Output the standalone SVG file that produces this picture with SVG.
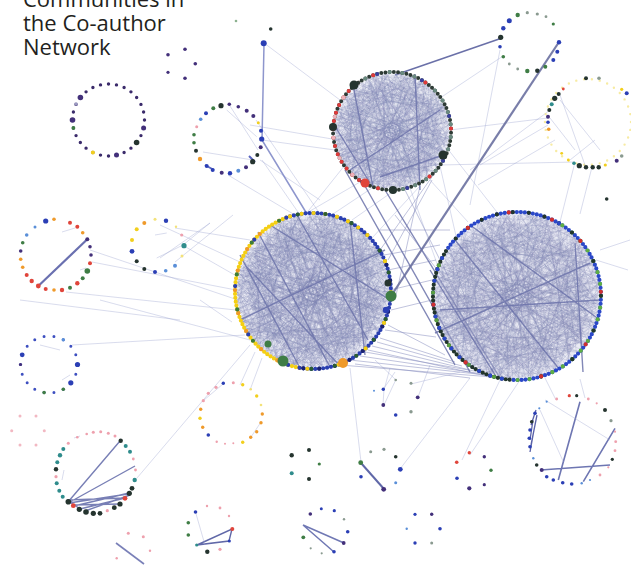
<svg xmlns="http://www.w3.org/2000/svg" xmlns:xlink="http://www.w3.org/1999/xlink" width="631" height="567" viewBox="0 0 631 567">
<style>
.t{font-family:"Open Sans","Liberation Sans",sans-serif;font-size:22px;fill:#231f20}
.ring{fill:none;stroke-linecap:round}
.mesh{fill:none;stroke:#7d83b2}
.haze{fill:#c3c6df}
.ef{fill:none;stroke:#9ca2d0;stroke-width:0.7;stroke-opacity:0.55}
.em{fill:none;stroke:#8a90c0;stroke-width:0.9;stroke-opacity:0.6}
.ed{fill:none;stroke:#6c73aa;stroke-width:1.4;stroke-opacity:0.85}
.bl{fill:#2b3fb5}.dk{fill:#25342f}.gr{fill:#3f7d45}.ye{fill:#f2cf1d}.or{fill:#ef9a2b}.rd{fill:#e0453b}
.pk{fill:#eea0ad}.pu{fill:#43307a}.tl{fill:#2f8c8c}.lb{fill:#5a8fd8}.gy{fill:#8a9a90}.fy{fill:#f3e27a}
</style>
<defs>
<filter id="soft" x="-5%" y="-5%" width="110%" height="110%"><feGaussianBlur stdDeviation="0.45"/></filter>
<path id="w1" d="M1,0L-0.966,0.259M0.966,0.259L-0.5,0.866M0.866,0.5L-0.707,-0.707M0.707,0.707L0.259,-0.966M0.5,0.866L-0.866,-0.5M0.259,0.966L0.707,-0.707M0,1L-1,0M-0.259,0.966L0.866,-0.5"/>
<path id="w2" d="M1,0L0.5,0.866M0.966,0.259L-0.259,0.966M0.707,0.707L-0.966,-0.259M0.259,0.966L-0.5,-0.866M-0.5,0.866L-0.866,-0.5M0.866,-0.5L-0.707,0.707M0.966,-0.259L0,1M0.5,-0.866L-0.259,-0.966"/>
<path id="w3" d="M0.985,0.174L-0.94,-0.342M0.643,0.766L-0.574,-0.819M-0.174,0.985L0.342,-0.94M-0.819,0.574L0.766,-0.643M0.94,0.342L-0.766,0.643M0.174,0.985L-0.985,-0.174M-0.342,0.94L0.985,-0.174M-0.94,-0.342L0.174,-0.985"/>
<g id="mesh">
<use href="#w1"/><use href="#w1" transform="rotate(31)"/><use href="#w1" transform="rotate(67)"/><use href="#w1" transform="rotate(103)"/><use href="#w1" transform="rotate(149)"/><use href="#w1" transform="rotate(181)"/><use href="#w1" transform="rotate(214)"/><use href="#w1" transform="rotate(259)"/><use href="#w1" transform="rotate(287)"/><use href="#w1" transform="rotate(331)"/>
<use href="#w2" transform="rotate(13)"/><use href="#w2" transform="rotate(52)"/><use href="#w2" transform="rotate(88)"/><use href="#w2" transform="rotate(121)"/><use href="#w2" transform="rotate(170)"/><use href="#w2" transform="rotate(197)"/><use href="#w2" transform="rotate(241)"/><use href="#w2" transform="rotate(268)"/><use href="#w2" transform="rotate(309)"/><use href="#w2" transform="rotate(350)"/>
<use href="#w3" transform="rotate(4)"/><use href="#w3" transform="rotate(47)"/><use href="#w3" transform="rotate(93)"/><use href="#w3" transform="rotate(138)"/><use href="#w3" transform="rotate(186)"/><use href="#w3" transform="rotate(229)"/><use href="#w3" transform="rotate(277)"/><use href="#w3" transform="rotate(318)"/>
</g>
<path id="arcA1" d="M299.5,367.8A78,78 0 0 1 286.3,217.7" pathLength="52"/>
<path id="arcA2" d="M286.3,217.7A78,78 0 0 1 372.7,240.9" pathLength="24"/>
<path id="arcA3" d="M372.7,240.9A78,78 0 0 1 299.5,367.8" pathLength="48"/>
<path id="arcB1" d="M509.7,379.7A84,84 0 0 1 448.2,247.8" pathLength="44"/>
<path id="arcB2" d="M448.2,247.8A84,84 0 0 1 559,223.3" pathLength="31"/>
<path id="arcB3" d="M559,223.3A84,84 0 0 1 509.7,379.7" pathLength="57"/>
<path id="arcC1" d="M362.5,182.1A59,59 0 0 1 358.2,82.7" pathLength="28"/>
<path id="arcC2" d="M358.2,82.7A59,59 0 1 1 362.5,182.1" pathLength="60"/>
</defs>
<rect width="631" height="567" fill="#ffffff"/>

<text class="t" x="23" y="7">Communities in</text>
<text class="t" x="23" y="31">the Co-author</text>
<text class="t" x="23" y="55">Network</text>

<!-- connectors between communities -->
<g id="edges">
<path class="ef" d="M236,290L92,262M238,300L90,250M240,278L184,246M236,310L66,292M245,335L72,345M250,345L137,478M255,352L240,385M262,358L250,390M240,262L160,225M250,240L175,228M300,215L262,160M320,214L256,120M335,150L262,140M340,100L264,43M345,165L305,215M372,188L330,216M395,190L352,220M360,182L298,218M420,186L372,238M430,180L468,222M440,166L456,236M410,188L440,272M447,148L500,216M450,130L548,118M440,98L503,56M560,222L575,162M580,214L592,167M545,378L556,400M580,379L585,398M520,380L470,455M500,380L462,460M390,368L384,390M375,360L396,380M460,372L411,384M430,365L418,397M350,368L361,462M470,378L400,469M500,50L470,205M470,170L550,110M478,185L555,140M480,165L548,125M440,165L575,162M232,322L200,300M175,262L233,215M160,258L210,223M20,300L180,320M100,300L250,340M260,160L320,200M250,125L338,140M228,175L300,218M600,250L630,240M596,260L628,270"/>
<path class="em" d="M365,352L480,372M372,346L470,370M380,338L455,362M350,360L495,376M388,325L445,355M340,365L505,378M360,356L490,375M377,342L462,366M385,330L436,337M391,310L432,300M390,290L432,280M388,270L436,260M384,255L440,245M355,364L470,378M368,350L500,379M420,186L395,300M432,180L388,260M444,160L380,250M405,190L460,300M380,230L450,230M395,215L445,280"/>
<path class="ed" d="M345,170L455,365M365,186L470,372M385,190L500,378"/>
<path d="M395,75L502,38" fill="none" stroke="#6a70a8" stroke-width="1.6"/>
<path d="M559,42L391,296" fill="none" stroke="#6a70a0" stroke-width="2.2" stroke-opacity="0.9"/>
<path d="M264,44L262,140L307,214" fill="none" stroke="#7a84c4" stroke-width="1.5" stroke-opacity="0.85"/>
</g>

<!-- big left community -->
<g id="comm-a">
<circle class="haze" cx="313" cy="291" r="76" fill-opacity="0.35"/>
<g class="mesh" filter="url(#soft)">
<use href="#mesh" transform="translate(313,291) scale(77)" stroke-width="0.009" stroke-opacity="0.3"/>
<use href="#mesh" transform="translate(308,296) scale(71) rotate(11)" stroke-width="0.0098" stroke-opacity="0.22"/>
<use href="#mesh" transform="translate(318,286) scale(70) rotate(57)" stroke-width="0.01" stroke-opacity="0.2"/>
</g>
<path class="ed" d="M258,232L330,367M297,215L368,340M240,255L300,368M270,225L390,300M350,222L365,355M240,320L385,250M245,265L340,366"/>
<g class="ring" stroke-width="4.2">
<use href="#arcA1" stroke="#f4cf14" stroke-dasharray="0 1"/>
<use href="#arcA1" stroke="#ef9a2b" stroke-dasharray="0 6 0 5"/>
<use href="#arcA1" stroke="#3d7d3a" stroke-dasharray="0 9" stroke-dashoffset="4"/>
<use href="#arcA1" stroke="#2a3fb0" stroke-dasharray="0 13" stroke-dashoffset="10"/>
<use href="#arcA2" stroke="#2a3fb0" stroke-dasharray="0 1"/>
<use href="#arcA2" stroke="#f4cf14" stroke-dasharray="0 3" stroke-dashoffset="2"/>
<use href="#arcA2" stroke="#2d5e33" stroke-dasharray="0 7" stroke-dashoffset="4"/>
<use href="#arcA3" stroke="#2a3fb0" stroke-dasharray="0 1"/>
<use href="#arcA3" stroke="#1a2270" stroke-dasharray="0 4" stroke-dashoffset="1"/>
<use href="#arcA3" stroke="#2d5e33" stroke-dasharray="0 6" stroke-dashoffset="3"/>
<use href="#arcA3" stroke="#f4cf14" stroke-dasharray="0 8" stroke-dashoffset="2"/>
</g>
<circle class="gr" cx="391" cy="296" r="5.5"/>
<circle class="dk" cx="388" cy="283" r="3.5"/>
<circle class="gr" cx="283" cy="361" r="5.5"/>
<circle class="or" cx="343" cy="363" r="5"/>
<circle class="gr" cx="268" cy="344" r="3.5"/>
<circle class="bl" cx="386" cy="310" r="3.2"/>
</g>

<!-- big right community -->
<g id="comm-b">
<circle class="haze" cx="517" cy="296" r="82" fill-opacity="0.35"/>
<g class="mesh" filter="url(#soft)">
<use href="#mesh" transform="translate(517,296) scale(83) rotate(5)" stroke-width="0.0085" stroke-opacity="0.28"/>
<use href="#mesh" transform="translate(512,301) scale(77) rotate(24)" stroke-width="0.0092" stroke-opacity="0.2"/>
<use href="#mesh" transform="translate(522,291) scale(76) rotate(71)" stroke-width="0.0093" stroke-opacity="0.18"/>
</g>
<path class="ed" d="M435,333L590,263M430,270L497,378M575,243L583,372M455,240L560,370M470,225L600,320M440,310L600,300"/>
<g class="ring" stroke-width="4.2">
<use href="#arcB1" stroke="#22352c" stroke-dasharray="0 1"/>
<use href="#arcB1" stroke="#2b48c8" stroke-dasharray="0 3" stroke-dashoffset="1"/>
<use href="#arcB1" stroke="#5a9e40" stroke-dasharray="0 7" stroke-dashoffset="3"/>
<use href="#arcB1" stroke="#d03030" stroke-dasharray="0 17" stroke-dashoffset="5"/>
<use href="#arcB2" stroke="#2b48c8" stroke-dasharray="0 1"/>
<use href="#arcB2" stroke="#22352c" stroke-dasharray="0 4" stroke-dashoffset="1"/>
<use href="#arcB2" stroke="#d03030" stroke-dasharray="0 11" stroke-dashoffset="4"/>
<use href="#arcB3" stroke="#2b48c8" stroke-dasharray="0 1"/>
<use href="#arcB3" stroke="#5fae44" stroke-dasharray="0 3" stroke-dashoffset="2"/>
<use href="#arcB3" stroke="#22352c" stroke-dasharray="0 9" stroke-dashoffset="5"/>
<use href="#arcB3" stroke="#d03030" stroke-dasharray="0 14" stroke-dashoffset="7"/>
</g>
</g>

<!-- top middle community -->
<g id="comm-c">
<circle class="haze" cx="392" cy="131" r="57" fill-opacity="0.25"/>
<g class="mesh" filter="url(#soft)">
<use href="#mesh" transform="translate(392,131) scale(58) rotate(7)" stroke-width="0.012" stroke-opacity="0.27"/>
<use href="#mesh" transform="translate(388,135) scale(53) rotate(27)" stroke-width="0.013" stroke-opacity="0.15"/>
<use href="#mesh" transform="translate(396,127) scale(52) rotate(61)" stroke-width="0.013" stroke-opacity="0.12"/>
</g>
<path class="ed" d="M353,85L373,187M415,74L420,190M333,123L370,183M443,155L380,177M440,110L350,170"/>
<g class="ring" stroke-width="4">
<use href="#arcC1" stroke="#2e3b36" stroke-dasharray="0 1"/>
<use href="#arcC1" stroke="#e03a3a" stroke-dasharray="0 2" stroke-dashoffset="1"/>
<use href="#arcC1" stroke="#f0b0b8" stroke-dasharray="0 5" stroke-dashoffset="2"/>
<use href="#arcC2" stroke="#2e3b36" stroke-dasharray="0 1"/>
<use href="#arcC2" stroke="#6a8a80" stroke-dasharray="0 3" stroke-dashoffset="1"/>
<use href="#arcC2" stroke="#3a40a0" stroke-dasharray="0 11" stroke-dashoffset="6"/>
<use href="#arcC2" stroke="#e03a3a" stroke-dasharray="0 13" stroke-dashoffset="9"/>
</g>
<circle class="dk" cx="354" cy="85" r="4.5"/>
<circle class="dk" cx="333" cy="127" r="4"/>
<circle class="rd" cx="365" cy="183" r="4.5"/>
<circle class="dk" cx="393" cy="190" r="4"/>
<circle class="dk" cx="443" cy="155" r="4.5"/>
</g>

<!-- top right small community -->
<g id="comm-d">
<circle class="dk" cx="500.7" cy="37.3" r="2.6"/>
<circle class="bl" cx="503.3" cy="28.3" r="2.2"/>
<circle class="bl" cx="509.3" cy="20.7" r="2.5"/>
<circle class="gr" cx="517.7" cy="15" r="2.2"/>
<circle class="gy" cx="527.3" cy="12.7" r="1.6"/>
<circle class="gy" cx="537.3" cy="14" r="1.6"/>
<circle class="gy" cx="546" cy="16.7" r="1.4"/>
<circle class="gr" cx="553.3" cy="24" r="1.6"/>
<circle class="bl" cx="559" cy="42.3" r="2.2"/>
<circle class="bl" cx="557.3" cy="51.7" r="2"/>
<circle class="bl" cx="553.3" cy="60" r="2"/>
<circle class="gr" cx="545.3" cy="66.7" r="2"/>
<circle class="dk" cx="537.3" cy="70.7" r="2.2"/>
<circle class="gr" cx="527.3" cy="71" r="2.2"/>
<circle class="gy" cx="517.7" cy="69" r="1.4"/>
<circle class="gy" cx="509.3" cy="64" r="1.4"/>
<circle class="gr" cx="503.3" cy="56.7" r="1.8"/>
<circle class="bl" cx="500" cy="46.7" r="1.8"/>
</g>

<!-- right community -->
<g id="comm-e">
<circle cx="588" cy="122" r="43" fill="none" stroke="#f3e27a" stroke-width="2.4" stroke-linecap="round" stroke-dasharray="0 1" pathLength="34" stroke-opacity="0.7"/>
<path class="ef" d="M550,118L575,150M570,160L595,140M560,100L600,150M585,165L560,95"/>
<circle class="rd" cx="563.3" cy="89" r="1.4"/>
<circle class="dk" cx="586" cy="78.3" r="2"/>
<circle class="gy" cx="599" cy="78.3" r="1.8"/>
<circle class="ye" cx="621.7" cy="89.3" r="1.6"/>
<circle class="bl" cx="626.7" cy="93.3" r="2"/>
<circle class="dk" cx="554.7" cy="98.3" r="2.6"/>
<circle class="dk" cx="558.7" cy="94" r="2"/>
<circle class="tl" cx="551.7" cy="104.3" r="2"/>
<circle class="dk" cx="549.3" cy="110" r="2"/>
<circle class="pu" cx="548" cy="116.7" r="2"/>
<circle class="bl" cx="548" cy="122.3" r="1.8"/>
<circle class="or" cx="548.7" cy="129.3" r="1.8"/>
<circle class="ye" cx="561.7" cy="153.3" r="1.4"/>
<circle class="ye" cx="568.3" cy="160" r="1.4"/>
<circle class="tl" cx="574" cy="163.3" r="1.8"/>
<circle class="dk" cx="579.3" cy="165.7" r="2.6"/>
<circle class="dk" cx="586" cy="167.3" r="2.2"/>
<circle class="dk" cx="592.7" cy="167.3" r="2.2"/>
<circle class="dk" cx="598.7" cy="167.3" r="2.2"/>
<circle class="ye" cx="605.3" cy="165" r="1.6"/>
<circle class="pu" cx="616.7" cy="160.7" r="2"/>
<circle class="gy" cx="621.7" cy="156" r="1.8"/>
</g>

<!-- left top community -->
<g id="comm-f">
<circle cx="108.5" cy="120" r="36" fill="none" stroke="#3b2b6b" stroke-width="3.4" stroke-linecap="round" stroke-dasharray="0 1" pathLength="28"/>
<circle class="ye" cx="92.9" cy="152.4" r="2"/>
<circle class="gr" cx="73.4" cy="128" r="1.9"/>
<circle class="dk" cx="136.6" cy="142.5" r="2.8"/>
<circle class="pu" cx="80.4" cy="97.5" r="2.8"/>
<circle class="pu" cx="72.5" cy="120" r="2.8"/>
<circle class="pu" cx="116.5" cy="155.1" r="2.5"/>
<circle class="pu" cx="143.6" cy="128" r="2.5"/>
<circle fill="#9a98c0" cx="76" cy="104" r="1.8"/>
</g>

<!-- second top-left community -->
<g id="comm-g">
<path class="ef" d="M226.7,110L256.7,136.7M203,152L253,160M230,106L258,150"/>
<path d="M205,165L214,170M249,156L255,162" stroke="#5a66c0" stroke-width="2" fill="none"/>
<circle class="dk" cx="221" cy="105.7" r="2.6"/>
<circle class="gr" cx="213.3" cy="108.3" r="2"/>
<circle class="bl" cx="206" cy="113.3" r="2"/>
<circle class="lb" cx="200.7" cy="119.3" r="1.8"/>
<circle class="pk" cx="196.7" cy="126.7" r="1.5"/>
<circle class="gr" cx="194" cy="134.7" r="1.8"/>
<circle class="gr" cx="194" cy="142.7" r="1.8"/>
<circle class="dk" cx="196" cy="150.7" r="2"/>
<circle class="or" cx="200" cy="159" r="2.2"/>
<circle class="bl" cx="206.7" cy="166" r="2"/>
<circle class="bl" cx="212.7" cy="170" r="2"/>
<circle class="pu" cx="221.7" cy="172.7" r="2"/>
<circle class="bl" cx="230" cy="173.3" r="2.2"/>
<circle class="lb" cx="238.3" cy="170.7" r="2"/>
<circle class="pu" cx="246" cy="167.3" r="2"/>
<circle class="dk" cx="252.7" cy="161.7" r="2.6"/>
<circle class="dk" cx="257.3" cy="155" r="2"/>
<circle class="pu" cx="260.7" cy="147.3" r="2"/>
<circle class="bl" cx="261.7" cy="139" r="2.6"/>
<circle class="bl" cx="261" cy="130.7" r="2"/>
<circle class="ye" cx="258.3" cy="122.7" r="1.5"/>
<circle class="pu" cx="253.3" cy="116" r="2"/>
<circle class="pu" cx="246.7" cy="110.7" r="2"/>
<circle class="pu" cx="238.3" cy="106.7" r="1.8"/>
<circle class="pu" cx="229.3" cy="104.3" r="1.8"/>
</g>

<!-- left middle community -->
<g id="comm-h">
<path d="M87.3,239.3L38.3,286" stroke="#6a70b0" stroke-width="2.2" fill="none"/>
<path class="ef" d="M62,232L75,228M80,270L86,268"/>
<circle class="bl" cx="45.7" cy="221" r="2.6"/>
<circle class="or" cx="54" cy="219.3" r="1.8"/>
<circle class="rd" cx="70" cy="222.7" r="2"/>
<circle class="rd" cx="77.3" cy="226.7" r="2"/>
<circle class="or" cx="82.7" cy="232.7" r="1.8"/>
<circle class="pu" cx="87.3" cy="239.3" r="2"/>
<circle class="pu" cx="90" cy="246.7" r="1.8"/>
<circle class="pu" cx="91" cy="255" r="1.8"/>
<circle class="rd" cx="90" cy="263.3" r="2"/>
<circle class="gr" cx="87.3" cy="271" r="2.8"/>
<circle class="gr" cx="82.7" cy="278.3" r="2"/>
<circle class="rd" cx="77.3" cy="283.3" r="2.2"/>
<circle class="gr" cx="70" cy="287.7" r="2"/>
<circle class="rd" cx="62" cy="290" r="2.2"/>
<circle class="or" cx="54" cy="290" r="1.8"/>
<circle class="rd" cx="45.7" cy="289" r="2"/>
<circle class="rd" cx="38.3" cy="286" r="2.4"/>
<circle class="rd" cx="31.7" cy="281" r="2.2"/>
<circle class="rd" cx="26.7" cy="275" r="2"/>
<circle class="or" cx="22.7" cy="267.3" r="1.8"/>
<circle class="or" cx="20.7" cy="259.3" r="1.8"/>
<circle class="pu" cx="20.7" cy="251" r="1.8"/>
<circle class="gr" cx="22.7" cy="242.7" r="1.8"/>
<circle class="lb" cx="26.7" cy="235" r="1.8"/>
<circle class="lb" cx="35" cy="227" r="1.5"/>
</g>

<!-- small yellow-blue community -->
<g id="comm-i">
<path class="ef" d="M155,235L166.7,233M156.7,258L183,245M183,245L210,223"/>
<circle class="bl" cx="166" cy="220.7" r="2.2"/>
<circle class="fy" cx="155" cy="219.3" r="1.5"/>
<circle class="or" cx="144.3" cy="223" r="2"/>
<circle class="ye" cx="136.7" cy="229.3" r="2"/>
<circle class="ye" cx="132" cy="240" r="2"/>
<circle class="bl" cx="132" cy="251.3" r="2.4"/>
<circle class="dk" cx="136.7" cy="261.3" r="2"/>
<circle class="dk" cx="144.3" cy="269" r="2"/>
<circle class="bl" cx="155" cy="272" r="2"/>
<circle class="lb" cx="165.7" cy="270.7" r="1.8"/>
<circle class="lb" cx="175" cy="265.7" r="2"/>
<circle class="fy" cx="182" cy="256" r="1.5"/>
<circle class="tl" cx="184" cy="245.7" r="2.6"/>
<circle class="pk" cx="181.7" cy="235" r="1.6"/>
<circle class="fy" cx="176" cy="226.7" r="1.2"/>
</g>

<!-- blue community -->
<g id="comm-j">
<circle cx="49" cy="364.5" r="28.5" fill="none" stroke="#3d4fc0" stroke-width="3" stroke-linecap="round" stroke-dasharray="0 1" pathLength="18"/>
<path class="ef" d="M40,345L60,350M62,380L70,375"/>
<circle class="gr" cx="63.3" cy="389.2" r="1.8"/>
<circle class="gr" cx="44.1" cy="392.6" r="1.8"/>
<circle class="bl" cx="77.5" cy="364.5" r="2.6"/>
<circle class="bl" cx="70.8" cy="382.8" r="2.6"/>
<circle class="lb" cx="63.3" cy="339.8" r="1.7"/>
<circle class="pu" cx="20.5" cy="364.5" r="1.6"/>
<circle class="bl" cx="22.2" cy="354.8" r="2.4"/>
</g>

<!-- small pastel community -->
<g id="comm-k">
<path class="ef" d="M204,400L223,384M251,437L261,422"/>
<circle class="bl" cx="223.3" cy="383.3" r="1.7"/>
<circle class="pk" cx="216" cy="387.3" r="1.6"/>
<circle class="pk" cx="208.3" cy="393.3" r="1.6"/>
<circle class="pk" cx="203.3" cy="400.7" r="1.6"/>
<circle class="or" cx="200.7" cy="409.3" r="1.7"/>
<circle class="ye" cx="200" cy="418.3" r="1.7"/>
<circle class="or" cx="202.7" cy="427.3" r="1.7"/>
<circle class="bl" cx="208.3" cy="435" r="1.8"/>
<circle class="pk" cx="216.7" cy="441.7" r="1.2"/>
<circle class="pk" cx="225" cy="443.7" r="1"/>
<circle class="pk" cx="233.3" cy="443.3" r="1"/>
<circle class="ye" cx="242.7" cy="442.3" r="1.7"/>
<circle class="or" cx="250.7" cy="437.3" r="1.7"/>
<circle class="or" cx="256.7" cy="431.7" r="1.7"/>
<circle class="or" cx="261" cy="422.7" r="1.7"/>
<circle class="or" cx="262.3" cy="414" r="1.7"/>
<circle class="fy" cx="261" cy="405" r="1.3"/>
<circle class="ye" cx="256.7" cy="396" r="1.7"/>
<circle class="fy" cx="250.7" cy="389.3" r="1.3"/>
<circle class="ye" cx="242.7" cy="384.7" r="1.7"/>
<circle class="pk" cx="233.3" cy="382.7" r="1.5"/>
</g>

<!-- lower left community -->
<g id="comm-l">
<path d="M68,502L120,441M70,502L135,466M67,500L125,498M69,503L128,494M72,505L120,504M74,506L129,493M80,509L125,498M85,511L130,495M82,510L68,501" stroke="#6068a8" stroke-width="1.4" stroke-opacity="0.85" fill="none"/>
<path class="ef" d="M74,438L80,436M62,480L64,470"/>
<circle class="tl" cx="63.3" cy="449" r="2"/>
<circle class="tl" cx="60" cy="455.3" r="2.2"/>
<circle class="tl" cx="57.3" cy="462.3" r="2"/>
<circle class="dk" cx="56" cy="469.3" r="2.2"/>
<circle class="pk" cx="56" cy="476.7" r="1.6"/>
<circle class="tl" cx="56.7" cy="483.3" r="2"/>
<circle class="tl" cx="59.3" cy="490.7" r="2"/>
<circle class="tl" cx="62.7" cy="496.7" r="2"/>
<circle class="dk" cx="68.3" cy="501.7" r="2.8"/>
<circle class="rd" cx="73.3" cy="505.7" r="2.4"/>
<circle class="dk" cx="79.3" cy="509.3" r="2.6"/>
<circle class="dk" cx="86" cy="512" r="2.8"/>
<circle class="dk" cx="93.3" cy="513.3" r="2.6"/>
<circle class="dk" cx="100" cy="513.3" r="2.4"/>
<circle class="pk" cx="107.3" cy="510.7" r="1.6"/>
<circle class="dk" cx="114.3" cy="507.7" r="2.4"/>
<circle class="dk" cx="120" cy="504" r="2.6"/>
<circle class="rd" cx="125" cy="498.3" r="2.4"/>
<circle class="dk" cx="129.3" cy="493.3" r="2.6"/>
<circle class="dk" cx="132" cy="488.3" r="2.4"/>
<circle class="tl" cx="134.7" cy="480" r="2.2"/>
<circle class="pk" cx="135.5" cy="470" r="1.4"/>
<circle class="pk" cx="133.3" cy="459" r="1.4"/>
<circle class="tl" cx="130" cy="451.7" r="2"/>
<circle class="tl" cx="125.7" cy="446" r="2"/>
<circle class="dk" cx="120.7" cy="440.7" r="2.2"/>
<circle class="pk" cx="115" cy="436" r="1.5"/>
<circle class="pk" cx="108.3" cy="433.3" r="1.5"/>
<circle class="pk" cx="100.7" cy="431.7" r="1.5"/>
<circle class="pk" cx="93.3" cy="432.3" r="1.5"/>
<circle class="pk" cx="86.7" cy="434" r="1.3"/>
<circle class="pk" cx="77.3" cy="437.3" r="1.3"/>
<circle class="pk" cx="68.3" cy="443.3" r="1.5"/>
</g>

<!-- small triangle community -->
<g id="comm-m">
<path d="M197,545L232,529L229,541ZM196,545L229,541" stroke="#6068a8" stroke-width="1.4" fill="none"/>
<path class="ef" d="M195.5,512L205,545"/>
<circle class="bl" cx="195.5" cy="512" r="1.8"/>
<circle class="pk" cx="207" cy="506" r="1.2"/>
<circle class="pk" cx="220" cy="508" r="1.4"/>
<circle class="pk" cx="229" cy="516" r="1.2"/>
<circle class="rd" cx="232.3" cy="529" r="2"/>
<circle class="bl" cx="229.3" cy="541" r="1.6"/>
<circle class="pk" cx="220" cy="549.3" r="1.6"/>
<circle class="dk" cx="207.3" cy="551.7" r="2.2"/>
<circle class="tl" cx="196.7" cy="545" r="1.6"/>
<circle class="gr" cx="188.3" cy="535" r="1.8"/>
<circle class="gr" cx="188.3" cy="522.7" r="1.8"/>
</g>

<!-- bottom left pair -->
<g id="comm-n">
<path d="M116,543L144,564" stroke="#7a80b8" stroke-width="1.6" fill="none"/>
<circle class="pk" cx="128.3" cy="533.3" r="1.5"/>
<circle class="pk" cx="143.3" cy="536.7" r="1.5"/>
<circle class="pk" cx="150" cy="550.7" r="1.2"/>
<circle class="pk" cx="116.7" cy="558.3" r="1.2"/>
</g>

<!-- pink hexagon -->
<g id="comm-o" fill-opacity="0.75">
<circle class="pk" cx="11.7" cy="430.7" r="1.5"/>
<circle class="pk" cx="20" cy="416" r="1.5"/>
<circle class="pk" cx="36" cy="416" r="1.5"/>
<circle class="pk" cx="44.3" cy="430.7" r="1.5"/>
<circle class="pk" cx="36" cy="445" r="1.5"/>
<circle class="pk" cx="20" cy="445" r="1.5"/>
</g>

<!-- lower right community -->
<g id="comm-r">
<path d="M580,401.7L558.3,480M610,465L540.7,470M615,428.3L583.3,481.7" stroke="#6e76b2" stroke-width="1.6" fill="none"/>
<path d="M531,425L536,410M530,440L533,420M530,452L534,430M531,445L537,415" stroke="#5a62a8" stroke-width="1.3" fill="none"/>
<path class="ef" d="M540,410L563.3,461.7M545,400L610,440"/>
<circle class="pk" cx="556.7" cy="399" r="1.4"/>
<circle class="rd" cx="569.3" cy="395.7" r="1.6"/>
<circle class="dk" cx="576.7" cy="395.7" r="1.6"/>
<circle class="pk" cx="588.3" cy="399" r="1.4"/>
<circle class="pk" cx="596.7" cy="403.3" r="1.1"/>
<circle class="dk" cx="605" cy="410" r="2"/>
<circle class="gy" cx="611" cy="420.7" r="1.6"/>
<circle class="pk" cx="615" cy="431.7" r="1.1"/>
<circle class="pk" cx="615.7" cy="441.7" r="1.4"/>
<circle class="pk" cx="615" cy="450.7" r="1.4"/>
<circle class="dk" cx="612.3" cy="459.3" r="1.6"/>
<circle class="pk" cx="608.3" cy="467.3" r="1.1"/>
<circle class="pk" cx="600" cy="475" r="1.4"/>
<circle class="lb" cx="590" cy="480" r="1.1"/>
<circle class="lb" cx="581.7" cy="483.3" r="1.2"/>
<circle class="bl" cx="571.7" cy="484" r="1.8"/>
<circle class="bl" cx="562.7" cy="482.7" r="1.8"/>
<circle class="bl" cx="553.3" cy="480" r="1.8"/>
<circle class="bl" cx="546.7" cy="476.7" r="1.8"/>
<circle class="pu" cx="541.7" cy="470" r="2"/>
<circle class="dk" cx="536.7" cy="465" r="1.8"/>
<circle class="lb" cx="533.3" cy="458.3" r="1.2"/>
<circle class="bl" cx="530" cy="446.7" r="1.8"/>
<circle class="bl" cx="529.3" cy="438.3" r="1.8"/>
<circle class="bl" cx="530" cy="430" r="1.8"/>
<circle class="dk" cx="531.7" cy="421.7" r="1.8"/>
<circle class="bl" cx="535" cy="413.3" r="1.8"/>
<circle class="lb" cx="539.3" cy="408.3" r="1.1"/>
<circle class="lb" cx="546.7" cy="401.7" r="1.1"/>
</g>

<!-- small dot groups -->
<g id="comm-s1">
<circle class="dk" cx="291.7" cy="455.3" r="2.2"/>
<circle class="dk" cx="309" cy="450" r="2"/>
<circle class="gr" cx="319.3" cy="464" r="1.6"/>
<circle class="dk" cx="309" cy="479" r="2"/>
<circle class="tl" cx="291.7" cy="473.3" r="2"/>
</g>
<g id="comm-s2">
<path d="M361,463L384,489" stroke="#6068a8" stroke-width="2" fill="none"/>
<circle class="gr" cx="360.7" cy="462.7" r="2.4"/>
<circle class="gy" cx="370.7" cy="451.7" r="1.5"/>
<circle class="gy" cx="384" cy="449.3" r="1.6"/>
<circle class="dk" cx="395.7" cy="456.7" r="1.8"/>
<circle class="bl" cx="400.3" cy="469.3" r="2.4"/>
<circle class="lb" cx="395.7" cy="482.7" r="1.5"/>
<circle class="pu" cx="383.7" cy="489.3" r="2.4"/>
<circle class="bl" cx="361" cy="476.7" r="1.8"/>
</g>
<g id="comm-s3">
<circle class="rd" cx="469.3" cy="452.7" r="1.7"/>
<circle class="rd" cx="456.7" cy="462.3" r="1.8"/>
<circle class="bl" cx="457" cy="478.3" r="1.8"/>
<circle class="pu" cx="469.3" cy="488.3" r="2.1"/>
<circle class="pu" cx="484.3" cy="484.7" r="1.6"/>
<circle class="gr" cx="491" cy="470.3" r="1.7"/>
<circle class="pu" cx="484.3" cy="456.7" r="1.7"/>
</g>
<g id="comm-s4">
<path d="M303,525L344,543M303,525L334,552" stroke="#7078b4" stroke-width="1.5" fill="none"/>
<circle class="pu" cx="310.3" cy="514" r="1.8"/>
<circle class="bl" cx="321.3" cy="508.7" r="1.5"/>
<circle class="bl" cx="334.3" cy="510.7" r="1.6"/>
<circle class="gy" cx="344" cy="519.3" r="1.2"/>
<circle class="bl" cx="347.7" cy="531.7" r="1.8"/>
<circle class="pu" cx="343.7" cy="543" r="1.9"/>
<circle class="bl" cx="334" cy="551.7" r="1.8"/>
<circle class="gy" cx="321.7" cy="553.3" r="1.1"/>
<circle class="gy" cx="310.7" cy="548.3" r="1.1"/>
<circle class="gr" cx="303.3" cy="537.3" r="1.9"/>
</g>
<g id="comm-s5">
<circle class="bl" cx="415" cy="514.3" r="1.6"/>
<circle class="pu" cx="431.7" cy="514.3" r="1.7"/>
<circle class="bl" cx="440" cy="528.7" r="1.8"/>
<circle class="gy" cx="431.7" cy="543" r="1.5"/>
<circle class="bl" cx="415" cy="543" r="1.7"/>
<circle class="lb" cx="406.7" cy="528.7" r="1.2"/>
</g>
<g id="comm-s6">
<path class="ef" d="M383.3,389.3L395,372M395.7,380L384,405M383,405L384,389"/>
<circle class="bl" cx="383.3" cy="389.3" r="1.7"/>
<circle class="gy" cx="395.7" cy="380" r="1.3"/>
<circle class="gy" cx="411" cy="383.3" r="1.5"/>
<circle class="pu" cx="417.7" cy="397.3" r="1.9"/>
<circle class="gy" cx="411" cy="411.7" r="1.7"/>
<circle class="bl" cx="395.7" cy="415" r="1.8"/>
<circle class="pu" cx="383.3" cy="405" r="1.9"/>
<circle class="lb" cx="374" cy="390.7" r="1"/>
</g>
<g id="comm-s7">
<circle class="pu" cx="168" cy="54.7" r="1.8"/>
<circle class="pu" cx="185" cy="49.3" r="1.8"/>
<circle class="pu" cx="195.3" cy="63.7" r="1.8"/>
<circle class="pu" cx="168" cy="72.3" r="1.6"/>
<circle class="pu" cx="185" cy="78.3" r="1.8"/>
</g>
<g id="comm-s8">
<circle class="gr" cx="236" cy="21" r="1.3" fill-opacity="0.6"/>
<circle class="dk" cx="270.7" cy="29" r="1.8"/>
<circle class="bl" cx="263.7" cy="43.3" r="3"/>
<circle class="dk" cx="606.7" cy="199" r="1.8"/>
</g>
</svg>
